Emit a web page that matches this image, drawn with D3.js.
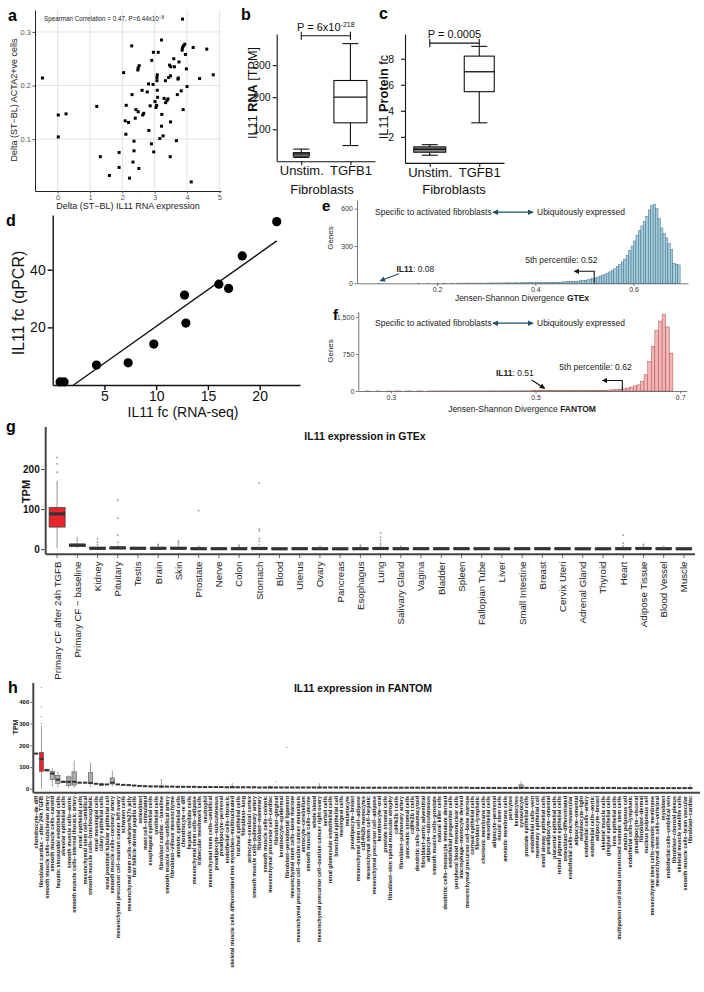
<!DOCTYPE html>
<html>
<head>
<meta charset="utf-8">
<title>IL11 figure</title>
<script src="https://d3js.org/d3.v7.min.js"></script>
<style>
  body { margin: 0; background: #fff; }
  svg { display: block; font-family: "Liberation Sans", Arial, Helvetica, sans-serif; }
</style>
</head>
<body>
<div id="chart"></div>
<script>
const FONT = '"Liberation Sans", Arial, Helvetica, sans-serif';

// ---------- data: panel a (scatter)
const aRna = [3.86,-0.47,0.02,0.26,0.02,1.21,1.32,1.60,1.90,1.90,2.04,2.09,2.12,2.11,2.19,2.22,2.29,2.30,2.33,2.36,2.36,2.40,2.42,2.48,2.49,2.52,2.49,2.51,2.61,2.63,2.66,2.77,2.81,2.82,2.86,2.90,2.91,2.96,2.95,2.97,3.01,3.04,3.06,3.07,3.07,3.08,3.08,3.09,3.11,3.16,3.21,3.22,3.21,3.26,3.29,3.33,3.34,3.38,3.41,3.43,3.46,3.48,3.49,3.49,3.50,3.59,3.61,3.67,3.70,3.72,3.73,3.75,3.82,3.85,3.86,3.89,3.88,3.93,3.95,3.98,4.00,4.13,4.19,4.39,4.61,4.81];
const aActa = [0.324,0.214,0.145,0.147,0.104,0.161,0.067,0.032,0.075,0.047,0.224,0.134,0.163,0.109,0.131,0.027,0.274,0.183,0.057,0.078,0.096,0.139,0.155,0.229,0.233,0.237,0.151,0.045,0.191,0.145,0.148,0.188,0.203,0.116,0.162,0.091,0.247,0.262,0.202,0.076,0.170,0.159,0.163,0.209,0.215,0.220,0.191,0.178,0.262,0.101,0.285,0.146,0.124,0.106,0.176,0.209,0.168,0.172,0.175,0.215,0.238,0.067,0.218,0.132,0.235,0.250,0.235,0.097,0.183,0.212,0.214,0.244,0.190,0.266,0.271,0.274,0.155,0.277,0.258,0.231,0.198,0.020,0.271,0.213,0.268,0.220];
const aXTicks = [0,1,2,3,4,5];
const aYTicks = [0.1,0.2,0.3];

// ---------- panel b / c (boxplots)
const bcCats = ["Unstim.", "TGFB1"];
const bLo = [12, 49], bQ1 = [16, 120], bMed = [23, 200], bQ3 = [27, 252], bHi = [38, 367];
const bTicks = [100, 200, 300];
const cLo = [0.59, 3.08], cQ1 = [0.82, 5.47], cMed = [1.05, 7.0], cQ3 = [1.23, 8.2], cHi = [1.4, 8.95];
const cTicks = [2, 4, 6, 8];

// ---------- panel d (qPCR vs RNA-seq)
const dRnaSeq = [0.71,1.1,4.23,7.29,9.77,12.74,12.87,16.06,17.0,18.32,21.65];
const dQpcr = [1.05,1.05,6.9,7.7,14.2,31.2,21.5,35.0,33.5,44.8,56.7];
const dXTicks = [5,10,15,20], dYTicks = [20,40];

// ---------- panel e (GTEx JSD histogram), bins of 0.005 starting at 0.05
const eStart = 0.05, eBin = 0.005;
const eCounts = [
  0,0,0,0,0,0,1,0,0,0,  0,0,0,0,0,0,0,0,0,0,  0,0,1,0,0,0,1,0,0,0,
  1,0,1,1,0,1,1,0,1,1,  1,1,2,1,1,2,1,2,2,1,  2,2,3,2,3,3,2,3,4,3,
  3,4,4,3,4,5,4,5,5,6,  6,6,7,6,7,8,7,8,9,9,
  10,11,12,13,14,15,16,18,20,22,
  25,28,32,37,42,50,58,66,74,82,
  92,104,118,135,150,172,195,225,262,300,
  340,385,425,462,495,540,590,625,635,600,
  520,445,400,365,320,270,160,152,148];
const eXTicks = [0.2,0.4,0.6], eYTicks = [0,300,600];

// ---------- panel f (FANTOM JSD histogram), bins of 0.005 starting at 0.26
const fStart = 0.26, fBin = 0.005;
const fCounts = [
  0,1,0,0,1,0,0,1,0,1,  1,0,1,1,0,1,1,0,1,1,  1,1,1,2,1,1,2,1,2,2,
  2,2,2,3,2,3,3,2,3,3,  3,3,4,3,4,4,4,5,
  5,5,6,6,6,7,7,7,8,8,  9,9,10,10,11,12,13,14,15,17,
  20,24,28,35,45,60,80,105,125,190,
  330,600,910,1230,1420,1560,1300,770];
const fXTicks = [0.3,0.5,0.7], fYTicks = [0,750,1500];

// ---------- panel g (GTEx tissues)
const gTissues = ["Primary CF after 24h TGFB","Primary CF \u2212 baseline","Kidney","Pituitary","Testis","Brain","Skin","Prostate","Nerve","Colon","Stomach","Blood","Uterus","Ovary","Pancreas","Esophagus","Lung","Salivary Gland","Vagina","Bladder","Spleen","Fallopian Tube","Liver","Small Intestine","Breast","Cervix Uteri","Adrenal Gland","Thyroid","Heart","Adipose Tissue","Blood Vessel","Muscle"];
const gLo  = [2,3,0,0,0,0,0,0,0,0,0,0,0,0,0,0,0,0,0,0,0,0,0,0,0,0,0,0,0,0,0,0];
const gQ1  = [55,7,1,1,1,1,1,0.5,0.5,0.5,0.5,0.3,0.5,0.5,0.3,0.5,0.5,0.5,0.5,0.5,0.5,0.5,0.3,0.5,0.5,0.5,0.3,0.3,0.5,0.5,0.5,0.3];
const gMed = [88,10,2,3,2,2,2,1,1,1,1.5,0.8,1,1,0.8,1,1.5,1,1,1,1,1,0.8,1,1,1,0.8,0.8,1,1.5,1,0.8];
const gQ3  = [104,12,4,5,3,3,4,2,2,2,3,1.5,2,2,1.5,2,3,2,2,2,2,2,1.5,2,2,2,1.5,1.5,2,3,2,1.5];
const gHi  = [171,18,8,10,5,6,8,4,3,4,6,3,3,4,3,4,6,4,3,3,3,3,3,3,3,3,3,3,4,6,4,3];
const gOut = [[192,213,229],[22,28],[12,18,26],[17,35,77,122],[],[9,12],[12,16,20],[7,96],[],[7,10],[12,20,27,45,50,165],[],[],[6],[],[7,10],[10,15,22,30,40],[7],[],[],[],[],[5],[],[],[],[],[],[8,15,35],[10,12],[6],[]];
const gYTicks = [0,100,200];

// ---------- panel h (FANTOM cell types)
const hCells = [
"chondrocyte\u2013de diff","fibroblast cardiac \u2013 after 24h TGFB","smooth muscle cells\u2013subclavian artery","smooth muscle cells\u2013carotid","hepatic sinusoidal endothelial cells","alveolar epithelial cells","smooth muscle cells\u2013aortic","smooth muscle cells\u2013internal thoracic artery","renal epithelial cells","mesenchymal stem cell\u2013umbilical","smooth muscle cells\u2013brachiocephalic","renal mesangial cells","ciliary epithelial cells","renal proximal tubular epithelial cell","smooth muscle cells\u2013coronary artery","mesenchymal precursor cell\u2013ovarian cancer left ovary","schwann cells","mesenchymal stem cells\u2013wharton%27s jelly","hair follicle dermal papilla cells","osteoblast","mast cell\u2013stimulated","esophageal epithelial cells","urothelial cells","fibroblast cardiac \u2013 baseline","smooth muscle cells\u2013umbilical artery","fibroblast\u2013villous mesenchyme","amniotic epithelial cells","chondrocyte\u2013re diff","hepatic stellate cells","mesenchymal stem cells\u2013adipose","trabecular meshwork cells","neutrophil","mesenchymal stem cells\u2013umbilical","preadipocyte\u2013subcutaneous","preadipocyte\u2013perirenal","endothelial cells\u2013thoracic","skeletal muscle cells differentiated into myotubes\u2013multinucleated","tracheal epithelial cells",
"fibroblast\u2013lung","astrocyte\u2013cerebral cortex","smooth muscle cells\u2013pulmonary artery","fibroblast\u2013mammary","smooth muscle cells\u2013colonic","mesenchymal precursor cell\u2013cardiac","fibroblast\u2013gingival","keratinocyte\u2013epidermal","fibroblast\u2013periodontal ligament","mesenchymal stem cells\u2013bone marrow","mesenchymal precursor cell\u2013ovarian cancer metastasis","astrocyte\u2013cerebellum","smooth muscle cells\u2013uterine","whole blood","mesenchymal precursor cell\u2013ovarian cancer right ovary","sertoli cells","renal glomerular endothelial cells","bronchial epithelial cell","meningeal cells","melanocyte","preadipocyte\u2013breast","mesenchymal stem cell\u2013adipose","cd14%2b monocytes","mesenchymal stem cell\u2013hepatic","mesenchymal precursor cell\u2013adipose","keratinocyte\u2013oral","prostate stromal cells","fibroblast\u2013skin spinal muscular atrophy","cd4%2b t cells","fibroblast\u2013pulmonary artery","pancreatic stromal cells","cd8%2b t cells","dendritic cells\u2013plasmacytoid","fibroblast\u2013aortic adventitial","adipocyte\u2013subcutaneous","smooth muscle cells\u2013prostate","natural killer cells","dendritic cells\u2013monocyte immature derived","endothelial progenitor cells","peripheral blood mononuclear cells","macrophage\u2013monocyte derived","mesenchymal precursor cell\u2013bone marrow",
"corneal epithelial cells","fibroblast\u2013lymphatic","chorionic membrane cells","mesothelial cells","adipocyte\u2013perirenal","neural stem cells","amniotic membrane cells","pericytes","keratocytes","synoviocyte","prostate epithelial cells","endothelial cells\u2013vein","mammary epithelial cell","small airway epithelial cells","preadipocyte\u2013omental","placental epithelial cells","retinal pigment epithelial cells","osteoblast\u2013differentiated","endothelial cells\u2013microvascular","adipocyte\u2013omental","melanocyte\u2013light","endothelial cells\u2013artery","endothelial cells\u2013aortic","adipocyte\u2013breast","skeletal muscle cells","gingival epithelial cells","lens epithelial cells","multipotent cord blood unrestricted somatic stem cells","anulus pulposus cell","endothelial cells\u2013lymphatic","preadipocyte\u2013visceral","fibroblast\u2013dermal","nucleus pulposus cell","mesenchymal stem cells\u2013amniotic membrane","mesenchymal stem cells\u2013vertebral","myoblast","endothelial cells\u2013umbilical vein","fibroblast\u2013choroid plexus","skeletal muscle satellite cells","smooth muscle cells\u2013brain vascular","fibroblast\u2013cardiac"];
const hMed = [162,137,86,70,42,32,32,32,28,28,27,23,20,20,28,20,18,17,15,13,12,11,11,10,10,10,9,9,9,9,8,8,8,8,8,7,7,7,
  7,7,7,6,6,6,6,6,6,6, 6,6,6,6,6,6,6,6,6,6, 5,5,5,5,5,5,5,5,5,5, 5,5,5,5,5,5,5,5,5,5,
  5,5,4,4,4,4,4,4,4,4, 4,4,4,4,4,4,4,4,4,4, 4,4,4,4,4,4,4,4,4,3, 3,3,3,3,3,3,3,3,3,3, 3,3,3];
// cell types with a visible box / whiskers
const hBoxIdx = [1,2,3,4,5,6,7,10,12,14,23,36,43,52,89,109,120];
const hBoxQ1  = [80,82,42,25,30,15,17,25,15,22,8,5,4,4,3,3,2];
const hBoxQ3  = [168,90,80,62,35,55,78,74,23,50,13,10,9,8,18,6,5];
const hBoxLo  = [0,78,10,8,28,5,5,10,12,10,3,2,2,2,1,1,1];
const hBoxHi  = [290,92,95,80,38,62,130,120,25,83,45,27,14,26,35,13,20];
const hOutIdx = [1,1,1,1,44,46];
const hOutVal = [301,332,378,467,33,190];
const hYTicks = [0,100,200,300,400];

// ---------- svg
const svg = d3.select("#chart").append("svg")
  .attr("width", 704).attr("height", 992)
  .attr("font-family", FONT);
svg.append("rect").attr("width", 704).attr("height", 992).attr("fill", "#fff");

const defs = svg.append("defs");
function arrowMarker(id, color) {
  defs.append("marker").attr("id", id)
    .attr("viewBox", "0 0 10 10").attr("refX", 9).attr("refY", 5)
    .attr("markerWidth", 5).attr("markerHeight", 5)
    .attr("orient", "auto-start-reverse")
    .append("path").attr("d", "M0,0L10,5L0,10z").attr("fill", color);
}
arrowMarker("arrTeal", "#1d4e6b");
arrowMarker("arrBlack", "#111");

// panel letters
const letters = [["a",8,21,16],["b",241,20,16],["c",379,19,16],["d",6,226,16],["e",322,211,15],["f",333,320,15],["g",6,432,16],["h",8,693,16]];
svg.selectAll("text.letter").data(letters).join("text")
  .attr("class", "letter")
  .attr("x", d => d[1]).attr("y", d => d[2])
  .attr("font-size", d => d[3]).attr("font-weight", "bold")
  .text(d => d[0]);

function styleAxis(g, size, color, weight) {
  g.attr("font-family", FONT).attr("font-size", size);
  g.selectAll("text").attr("fill", color).attr("font-weight", weight || "normal");
}

// ================= panel a
{
  const g = svg.append("g");
  const x = d3.scaleLinear().domain([-0.7, 5.05]).range([35, 221]);
  const y = d3.scaleLinear().domain([0.003, 0.341]).range([191, 10]);

  g.selectAll("line.vg").data(aXTicks).join("line")
    .attr("x1", d => x(d)).attr("x2", d => x(d)).attr("y1", 10).attr("y2", 191)
    .attr("stroke", "#dadada").attr("stroke-width", 0.8);
  g.selectAll("line.hg").data(aYTicks).join("line")
    .attr("x1", 35).attr("x2", 221).attr("y1", d => y(d)).attr("y2", d => y(d))
    .attr("stroke", "#dadada").attr("stroke-width", 0.8);

  g.selectAll("rect.pt").data(aRna.map((v, i) => [v, aActa[i]])).join("rect")
    .attr("x", d => x(d[0]) - 1.5).attr("y", d => y(d[1]) - 1.5)
    .attr("width", 3).attr("height", 3).attr("fill", "#000");

  const ya = g.append("g").attr("transform", "translate(35,0)")
    .call(d3.axisLeft(y).tickValues(aYTicks).tickSize(2.5).tickSizeOuter(0).tickPadding(1.5).tickFormat(d3.format(".1f")));
  styleAxis(ya, 7.5, "#555");
  ya.selectAll(".tick line").attr("stroke", "#555");
  ya.select(".domain").attr("stroke", "#222");

  const xa = g.append("g").attr("transform", "translate(0,191)")
    .call(d3.axisBottom(x).tickValues(aXTicks).tickSize(2.5).tickSizeOuter(0).tickPadding(1.5).tickFormat(d3.format("d")));
  styleAxis(xa, 7.5, "#555");
  xa.selectAll(".tick line").attr("stroke", "#555");
  xa.select(".domain").attr("stroke", "#222");

  const t = g.append("text").attr("x", 44).attr("y", 21).attr("font-size", 6.3).attr("fill", "#222");
  t.append("tspan").text("Spearman Correlation = 0.47, P=6.44x10");
  t.append("tspan").attr("dy", -2.5).attr("font-size", 4.5).text("\u22128");

  g.append("text").attr("x", 128).attr("y", 208.5).attr("text-anchor", "middle")
    .attr("font-size", 9).attr("fill", "#222").text("Delta (ST\u2212BL) IL11 RNA expression");
  g.append("text").attr("transform", "translate(17,100) rotate(-90)").attr("text-anchor", "middle")
    .attr("font-size", 9).attr("fill", "#222").text("Delta (ST\u2212BL) ACTA2+ve cells");
}

// ================= boxplots b and c
function drawSimpleBox(g, x, y, lo, q1, med, q3, hi, widths, fills) {
  const rows = bcCats.map((c, i) => ({c, lo: lo[i], q1: q1[i], med: med[i], q3: q3[i], hi: hi[i], w: widths[i], fill: fills[i]}));
  const box = g.selectAll("g.box").data(rows).join("g").attr("class", "box");
  box.append("line").attr("x1", d => x(d.c)).attr("x2", d => x(d.c))
    .attr("y1", d => y(d.lo)).attr("y2", d => y(d.hi)).attr("stroke", "#111").attr("stroke-width", 1.1);
  box.append("line").attr("x1", d => x(d.c) - 8).attr("x2", d => x(d.c) + 8)
    .attr("y1", d => y(d.lo)).attr("y2", d => y(d.lo)).attr("stroke", "#111").attr("stroke-width", 1.1);
  box.append("line").attr("x1", d => x(d.c) - 8).attr("x2", d => x(d.c) + 8)
    .attr("y1", d => y(d.hi)).attr("y2", d => y(d.hi)).attr("stroke", "#111").attr("stroke-width", 1.1);
  box.append("rect").attr("x", d => x(d.c) - d.w / 2).attr("width", d => d.w)
    .attr("y", d => y(d.q3)).attr("height", d => y(d.q1) - y(d.q3))
    .attr("fill", d => d.fill).attr("stroke", "#111").attr("stroke-width", 1.1);
  box.append("line").attr("x1", d => x(d.c) - d.w / 2).attr("x2", d => x(d.c) + d.w / 2)
    .attr("y1", d => y(d.med)).attr("y2", d => y(d.med)).attr("stroke", "#111").attr("stroke-width", 1.3);
}

function bracket(g, x1, x2, yy, label, sup) {
  g.append("line").attr("x1", x1).attr("x2", x2).attr("y1", yy).attr("y2", yy).attr("stroke", "#111").attr("stroke-width", 1.1);
  [x1, x2].forEach(xx => g.append("line").attr("x1", xx).attr("x2", xx).attr("y1", yy - 4).attr("y2", yy + 4).attr("stroke", "#111").attr("stroke-width", 1.1));
  const t = g.append("text").attr("x", (x1 + x2) / 2).attr("y", yy - 5).attr("text-anchor", "middle").attr("font-size", 11).attr("fill", "#111");
  t.append("tspan").text(label);
  if (sup) t.append("tspan").attr("dy", -4).attr("font-size", 7).text(sup);
}

function catAxes(g, x, y, ticks, x0, xEnd, y0, ypad) {
  const ya = g.append("g").attr("transform", `translate(${x0},0)`)
    .call(d3.axisLeft(y).tickValues(ticks).tickSize(4).tickSizeOuter(0).tickPadding(ypad));
  styleAxis(ya, 10.5, "#111");
  ya.selectAll("line, path").attr("stroke", "#111").attr("stroke-width", 1.1);
  const xa = g.append("g").attr("transform", `translate(0,${y0})`)
    .call(d3.axisBottom(x).tickSize(4).tickSizeOuter(0).tickPadding(2));
  styleAxis(xa, 13, "#111");
  xa.selectAll("line, path").attr("stroke", "#111").attr("stroke-width", 1.1);
  xa.selectAll("text").attr("dy", "0.62em");
}

// ================= panel b
{
  const g = svg.append("g");
  const x = d3.scalePoint().domain(bcCats).range([276.7, 375]).padding(0.5);
  const y = d3.scaleLinear().domain([0, 397]).range([161.3, 34]);
  drawSimpleBox(g, x, y, bLo, bQ1, bMed, bQ3, bHi, [16, 33], ["#9a9a9a", "#fff"]);
  catAxes(g, x, y, bTicks, 276.7, 375, 161.3, 2);

  g.append("text").attr("x", 322).attr("y", 194).attr("text-anchor", "middle").attr("font-size", 13).attr("fill", "#111").text("Fibroblasts");
  const yl = g.append("text").attr("transform", "translate(257,93) rotate(-90)").attr("text-anchor", "middle").attr("font-size", 12.7).attr("fill", "#111");
  yl.append("tspan").text("IL11 ");
  yl.append("tspan").attr("font-weight", "bold").text("RNA");
  yl.append("tspan").text(" [TPM]");

  bracket(g, x("Unstim."), x("TGFB1"), y(391.6), "P = 6x10", "-218");
}

// ================= panel c
{
  const g = svg.append("g");
  const x = d3.scalePoint().domain(bcCats).range([405, 504]).padding(0.5);
  const y = d3.scaleLinear().domain([0, 9.9]).range([162.9, 34]);
  drawSimpleBox(g, x, y, cLo, cQ1, cMed, cQ3, cHi, [32, 30], ["#8c8c8c", "#fff"]);
  catAxes(g, x, y, cTicks, 405, 504, 162.9, 7);

  g.append("text").attr("x", 454).attr("y", 194).attr("text-anchor", "middle").attr("font-size", 13).attr("fill", "#111").text("Fibroblasts");
  const yl = g.append("text").attr("transform", "translate(388,97) rotate(-90)").attr("text-anchor", "middle").attr("font-size", 12.7).attr("fill", "#111");
  yl.append("tspan").text("IL11 ");
  yl.append("tspan").attr("font-weight", "bold").text("Protein");
  yl.append("tspan").text(" fc");

  bracket(g, x("Unstim."), x("TGFB1"), y(9.2), "P = 0.0005");
}

// ================= panel d
{
  const g = svg.append("g");
  const x = d3.scaleLinear().domain([0, 23.9]).range([52.7, 300]);
  const y = d3.scaleLinear().domain([0, 59]).range([385, 215]);

  // least-squares fit line through the points
  const mx = d3.mean(dRnaSeq), my = d3.mean(dQpcr);
  const slope = d3.sum(dRnaSeq, (v, i) => (v - mx) * (dQpcr[i] - my)) / d3.sum(dRnaSeq, v => (v - mx) ** 2);
  const icpt = my - slope * mx;
  const x0 = -icpt / slope, x1 = d3.max(dRnaSeq);
  g.append("line").attr("x1", x(x0)).attr("y1", y(0)).attr("x2", x(x1)).attr("y2", y(icpt + slope * x1))
    .attr("stroke", "#111").attr("stroke-width", 1.4);

  g.selectAll("circle").data(dRnaSeq.map((v, i) => [v, dQpcr[i]])).join("circle")
    .attr("cx", d => x(d[0])).attr("cy", d => y(d[1])).attr("r", 4.6).attr("fill", "#000");

  const ya = g.append("g").attr("transform", "translate(52.7,0)")
    .call(d3.axisLeft(y).tickValues(dYTicks).tickSize(5).tickSizeOuter(0).tickPadding(2));
  styleAxis(ya, 14, "#111");
  ya.selectAll("line, path").attr("stroke", "#111").attr("stroke-width", 1.4);
  const xa = g.append("g").attr("transform", "translate(0,385)")
    .call(d3.axisBottom(x).tickValues(dXTicks).tickSize(5).tickSizeOuter(0).tickPadding(1));
  styleAxis(xa, 14, "#111");
  xa.selectAll("line, path").attr("stroke", "#111").attr("stroke-width", 1.4);

  g.append("text").attr("x", 183).attr("y", 417).attr("text-anchor", "middle").attr("font-size", 14).attr("fill", "#111").text("IL11 fc (RNA-seq)");
  g.append("text").attr("transform", "translate(24,303) rotate(-90)").attr("text-anchor", "middle").attr("font-size", 16).attr("fill", "#111").text("IL11 fc (qPCR)");
}

// ================= histogram panels e and f
function histPanel(opt) {
  const g = svg.append("g");
  const x = d3.scaleLinear().domain(opt.xDomain).range(opt.xRange);
  const y = d3.scaleLinear().domain(opt.yDomain).range(opt.yRange);
  const bins = opt.counts.map((c, i) => ({x0: opt.start + i * opt.bin, c}));
  g.selectAll("rect").data(bins).join("rect")
    .attr("x", d => x(d.x0)).attr("width", x(opt.bin) - x(0))
    .attr("y", d => y(d.c)).attr("height", d => y(0) - y(d.c))
    .attr("fill", opt.fill).attr("stroke", opt.stroke).attr("stroke-width", 0.45);

  const ya = g.append("g").attr("transform", `translate(${opt.xRange[0]},0)`)
    .call(d3.axisLeft(y).tickValues(opt.yTicks).tickSize(2.5).tickSizeOuter(0).tickPadding(1.5));
  styleAxis(ya, 7, "#333");
  ya.selectAll("line, path").attr("stroke", "#555").attr("stroke-width", 0.8);
  const xa = g.append("g").attr("transform", `translate(0,${y(0)})`)
    .call(d3.axisBottom(x).tickValues(opt.xTicks).tickSize(2.5).tickSizeOuter(0).tickPadding(1.5).tickFormat(d3.format(".1f")));
  styleAxis(xa, 7, "#333");
  xa.selectAll("line, path").attr("stroke", "#555").attr("stroke-width", 0.8);

  const xt = g.append("text").attr("x", 522).attr("y", opt.xTitleY).attr("text-anchor", "middle").attr("font-size", 8.5).attr("fill", "#222");
  xt.append("tspan").text("Jensen-Shannon Divergence ");
  xt.append("tspan").attr("font-weight", "bold").text(opt.name);
  g.append("text").attr("transform", `translate(333,${opt.genesY}) rotate(-90)`).attr("text-anchor", "middle")
    .attr("font-size", 8).attr("fill", "#222").text("Genes");

  // specific <-> ubiquitous
  const ty = opt.topTextY;
  g.append("text").attr("x", 375).attr("y", ty).attr("font-size", 8.5).attr("fill", "#222").text("Specific to activated fibroblasts");
  g.append("line").attr("x1", 493).attr("x2", 533).attr("y1", ty - 2.8).attr("y2", ty - 2.8)
    .attr("stroke", "#1d4e6b").attr("stroke-width", 1.2)
    .attr("marker-start", "url(#arrTeal)").attr("marker-end", "url(#arrTeal)");
  g.append("text").attr("x", 537).attr("y", ty).attr("font-size", 8.5).attr("fill", "#222").text("Ubiquitously expressed");

  // IL11 marker
  const il = g.append("text").attr("x", opt.ilText[0]).attr("y", opt.ilText[1]).attr("font-size", 8.5).attr("fill", "#222");
  il.append("tspan").attr("font-weight", "bold").text("IL11");
  il.append("tspan").text(": " + opt.ilVal.toFixed(2));
  const tip = [x(opt.ilVal) + 2, y(0) - 2.5];
  g.append("line").attr("x1", tip[0] + opt.ilTail[0]).attr("y1", tip[1] + opt.ilTail[1])
    .attr("x2", tip[0]).attr("y2", tip[1])
    .attr("stroke", opt.ilColor).attr("stroke-width", 1.1).attr("marker-end", opt.ilMarker);

  // 5th percentile bracket
  const px = x(opt.pct);
  g.append("path").attr("d", `M${px},${y(0)}V${y(0) - opt.pctH}H${px - 20}`)
    .attr("fill", "none").attr("stroke", "#111").attr("stroke-width", 1.1).attr("marker-end", "url(#arrBlack)");
  g.append("text").attr("x", px + opt.pctText[0]).attr("y", y(0) + opt.pctText[1]).attr("font-size", 8.5).attr("fill", "#222")
    .text("5th percentile: " + opt.pct.toFixed(2));
}

histPanel({
  name: "GTEx", counts: eCounts, start: eStart, bin: eBin,
  xDomain: [0.037, 0.711], xRange: [357, 688], yDomain: [0, 670], yRange: [283.3, 200],
  xTicks: eXTicks, yTicks: eYTicks, fill: "#a3cbdc", stroke: "#3a6a80",
  xTitleY: 301, genesY: 238, topTextY: 215,
  ilVal: 0.08, ilText: [396.5, 271.5], ilTail: [19, -7], ilColor: "#1d4e6b", ilMarker: "url(#arrTeal)",
  pct: 0.52, pctH: 12, pctText: [-69, -20]
});
histPanel({
  name: "FANTOM", counts: fCounts, start: fStart, bin: fBin,
  xDomain: [0.255, 0.709], xRange: [358.3, 686.7], yDomain: [0, 1610], yRange: [391, 311.7],
  xTicks: fXTicks, yTicks: fYTicks, fill: "#f3b5b5", stroke: "#a24848",
  xTitleY: 412, genesY: 351, topTextY: 326,
  ilVal: 0.51, ilText: [496, 376], ilTail: [-13, -8.5], ilColor: "#111", ilMarker: "url(#arrBlack)",
  pct: 0.62, pctH: 10.5, pctText: [-63, -21]
});

// ================= panel g
{
  const g = svg.append("g");
  const x = d3.scaleBand().domain(d3.range(gTissues.length)).range([47, 694]);
  const y = d3.scaleLinear().domain([-13, 305]).range([554.3, 427]);
  const bw = 16;
  const rows = gTissues.map((t, i) => ({i, lo: gLo[i], q1: gQ1[i], med: gMed[i], q3: gQ3[i], hi: gHi[i], out: gOut[i]}));
  const cx = d => x(d.i) + x.bandwidth() / 2;

  g.append("text").attr("x", 365).attr("y", 440).attr("text-anchor", "middle").attr("font-size", 10.5).attr("font-weight", "bold").attr("fill", "#111").text("IL11 expression in GTEx");

  const b = g.selectAll("g.box").data(rows).join("g").attr("class", "box");
  b.append("line").attr("x1", cx).attr("x2", cx).attr("y1", d => y(d.lo)).attr("y2", d => y(d.hi)).attr("stroke", "#777").attr("stroke-width", 0.8);
  b.append("rect").attr("x", d => cx(d) - bw / 2).attr("width", bw)
    .attr("y", d => y(d.q3)).attr("height", d => Math.max(0.5, y(d.q1) - y(d.q3)))
    .attr("fill", d => d.i === 0 ? "#e8232a" : "#666").attr("stroke", "#444").attr("stroke-width", 0.8);
  b.append("line").attr("x1", d => cx(d) - bw / 2).attr("x2", d => cx(d) + bw / 2)
    .attr("y1", d => y(d.med)).attr("y2", d => y(d.med)).attr("stroke", "#333").attr("stroke-width", 3.2);
  b.selectAll("circle").data(d => d.out.map(v => [cx(d), v])).join("circle")
    .attr("cx", d => d[0]).attr("cy", d => y(d[1])).attr("r", 0.9).attr("fill", "#999");

  // axes
  g.append("line").attr("x1", 45.7).attr("x2", 45.7).attr("y1", 427).attr("y2", 554.3).attr("stroke", "#444").attr("stroke-width", 2);
  g.append("line").attr("x1", 45.7).attr("x2", 695).attr("y1", 554.3).attr("y2", 554.3).attr("stroke", "#444").attr("stroke-width", 2);
  const ya = g.append("g").attr("transform", "translate(44.7,0)")
    .call(d3.axisLeft(y).tickValues(gYTicks).tickSize(3.5).tickSizeOuter(0).tickPadding(1.5));
  ya.select(".domain").remove();
  styleAxis(ya, 10, "#111", "bold");
  ya.selectAll("line").attr("stroke", "#444").attr("stroke-width", 1);
  g.selectAll("line.xt").data(rows).join("line").attr("class", "xt")
    .attr("x1", cx).attr("x2", cx).attr("y1", 555).attr("y2", 558).attr("stroke", "#444").attr("stroke-width", 0.8);
  g.selectAll("text.xl").data(rows).join("text").attr("class", "xl")
    .attr("transform", d => `translate(${cx(d)},561.5) rotate(-90)`)
    .attr("text-anchor", "end").attr("dy", "0.35em").attr("font-size", 9.7).attr("fill", "#222")
    .text(d => gTissues[d.i]);
  g.append("text").attr("transform", "translate(29.5,491.5) rotate(-90)").attr("text-anchor", "middle")
    .attr("font-size", 11).attr("font-weight", "bold").attr("fill", "#111").text("TPM");
}

// ================= panel h
{
  const g = svg.append("g");
  const x = d3.scaleBand().domain(d3.range(hCells.length)).range([33.3, 692.8]);
  const y = d3.scaleLinear().domain([-18, 487]).range([792.7, 683]);
  const bw = 4.4;
  const rows = hCells.map((t, i) => {
    const k = hBoxIdx.indexOf(i);
    return k < 0 ? {i, med: hMed[i], q1: hMed[i], q3: hMed[i], lo: hMed[i], hi: hMed[i]}
                 : {i, med: hMed[i], q1: hBoxQ1[k], q3: hBoxQ3[k], lo: hBoxLo[k], hi: hBoxHi[k]};
  });
  const cx = d => x(d.i) + x.bandwidth() / 2;

  g.append("text").attr("x", 363).attr("y", 692).attr("text-anchor", "middle").attr("font-size", 10.5).attr("font-weight", "bold").attr("fill", "#111").text("IL11 expression in FANTOM");

  const b = g.selectAll("g.box").data(rows).join("g").attr("class", "box");
  b.append("line").attr("x1", cx).attr("x2", cx).attr("y1", d => y(d.lo)).attr("y2", d => y(d.hi)).attr("stroke", "#777").attr("stroke-width", 0.7);
  b.filter(d => d.q3 > d.q1).append("rect").attr("x", d => cx(d) - bw / 2).attr("width", bw)
    .attr("y", d => y(d.q3)).attr("height", d => y(d.q1) - y(d.q3))
    .attr("fill", d => d.i === 1 ? "#e8232a" : "#adadad").attr("stroke", "#555").attr("stroke-width", 0.6);
  b.append("line").attr("x1", d => cx(d) - bw / 2).attr("x2", d => cx(d) + bw / 2)
    .attr("y1", d => y(d.med)).attr("y2", d => y(d.med)).attr("stroke", "#333").attr("stroke-width", 2);
  g.selectAll("circle.out").data(hOutIdx.map((k, j) => [k, hOutVal[j]])).join("circle").attr("class", "out")
    .attr("cx", d => x(d[0]) + x.bandwidth() / 2).attr("cy", d => y(d[1])).attr("r", 0.7).attr("fill", "#999");

  g.append("line").attr("x1", 33.3).attr("x2", 33.3).attr("y1", 683).attr("y2", 792.7).attr("stroke", "#444").attr("stroke-width", 2);
  g.append("line").attr("x1", 33.3).attr("x2", 700).attr("y1", 792.7).attr("y2", 792.7).attr("stroke", "#444").attr("stroke-width", 2);
  const ya = g.append("g").attr("transform", "translate(32.3,0)")
    .call(d3.axisLeft(y).tickValues(hYTicks).tickSize(2).tickSizeOuter(0).tickPadding(1));
  ya.select(".domain").remove();
  styleAxis(ya, 6, "#111", "bold");
  ya.selectAll("line").attr("stroke", "#444").attr("stroke-width", 0.8);
  g.selectAll("text.xl").data(rows).join("text").attr("class", "xl")
    .attr("transform", d => `translate(${cx(d)},796) rotate(-90)`)
    .attr("text-anchor", "end").attr("dy", "0.35em").attr("font-size", 5.5).attr("font-weight", "bold").attr("fill", "#111")
    .text(d => hCells[d.i]);
  g.append("text").attr("transform", "translate(17.5,727) rotate(-90)").attr("text-anchor", "middle")
    .attr("font-size", 7).attr("font-weight", "bold").attr("fill", "#111").text("TPM");
}
</script>
</body>
</html>
